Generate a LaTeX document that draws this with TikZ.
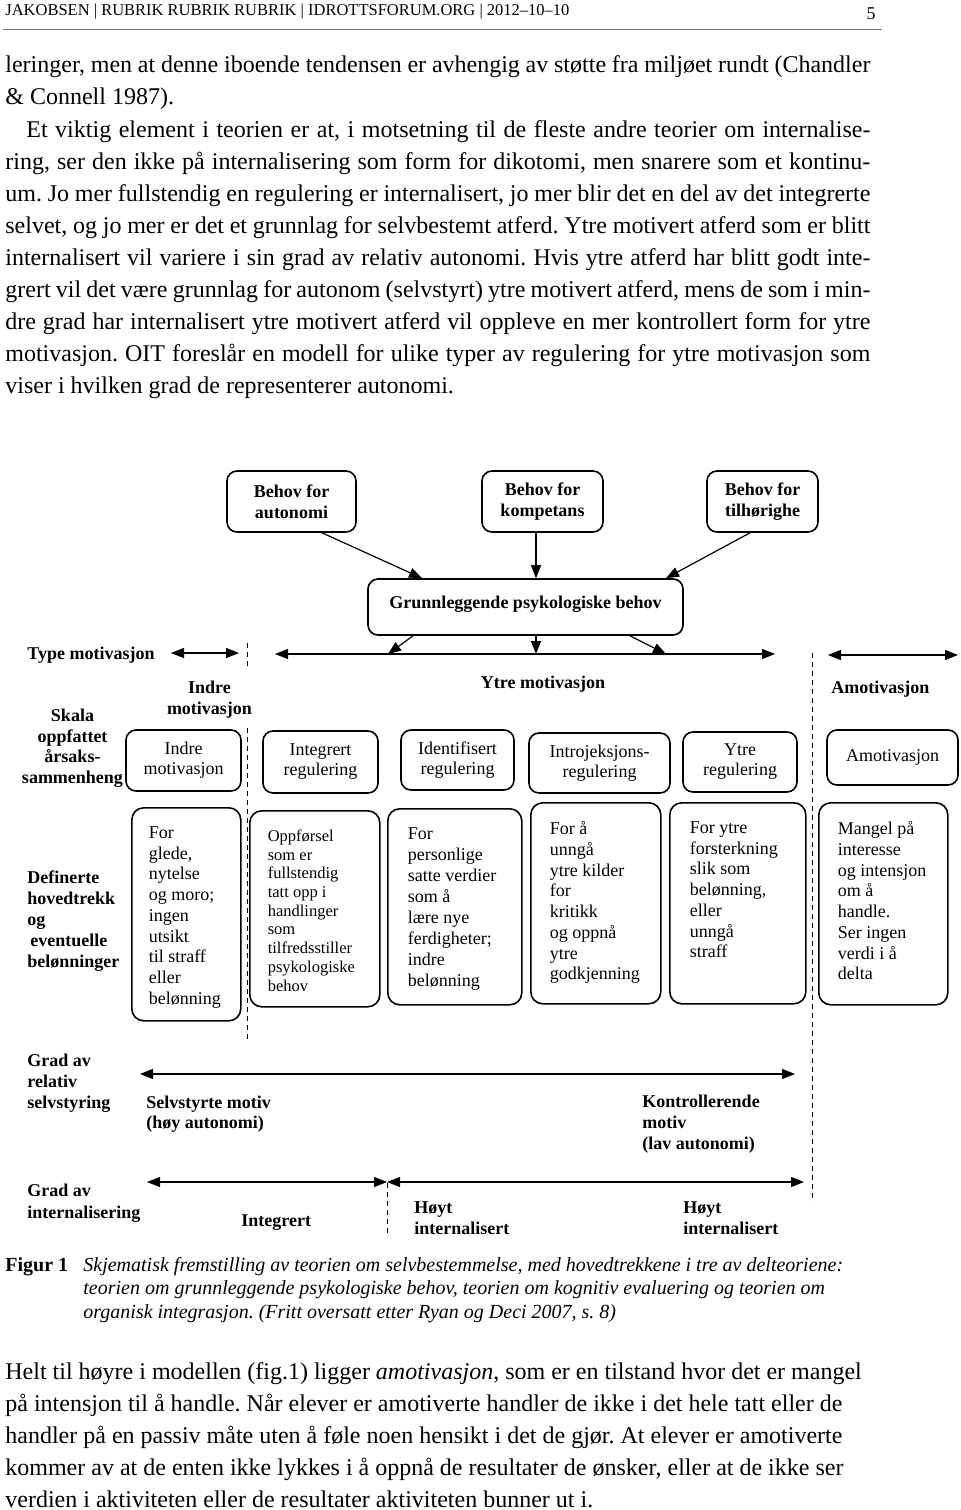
\documentclass[tikz,border=0pt]{standalone}
\usepackage{fontspec}
\setmainfont{Liberation Serif}
\usetikzlibrary{arrows.meta}
\hyphenpenalty=10000
\frenchspacing

\begin{document}
\begin{tikzpicture}
  [x=0.5pt, y=-0.5pt,
   linje/.style={anchor=base west, inner sep=0pt, font=\fontsize{12}{16}\selectfont},
   figtekst/.style={anchor=base west, inner sep=0pt, font=\itshape\fontsize{10}{12}\selectfont},
   behov/.style={draw, line width=0.8pt, rounded corners=5pt, align=center, inner sep=0pt, font=\bfseries\fontsize{9}{10.5}\selectfont},
   regul/.style={draw, line width=0.8pt, rounded corners=5pt, align=center, inner sep=0pt, font=\fontsize{9}{10}\selectfont},
   trekk/.style={draw, line width=0.8pt, rounded corners=6pt, anchor=north west, inner xsep=0pt, inner ysep=9.5pt, font=\fontsize{9}{10.35}\selectfont},
   etikett/.style={inner sep=0pt, font=\bfseries\fontsize{9}{10.5}\selectfont},
   pil/.style={-{Triangle[length=6.5pt,width=5pt]}, line width=0.6pt},
   dobbelpil/.style={{Triangle[length=6.5pt,width=5pt]}-{Triangle[length=6.5pt,width=5pt]}, line width=0.6pt},
   skille/.style={line width=0.5pt, dash pattern=on 2.5pt off 2pt}]
  \useasboundingbox (0,0) rectangle (960,1510);

  % page head
  \node[anchor=base west, inner sep=0pt, font=\fontsize{8.25}{9}\selectfont] (hode) at (5,15) {JAKOBSEN | RUBRIK RUBRIK RUBRIK | IDROTTSFORUM.ORG | 2012–10–10};
  \node[anchor=base east, inner sep=0pt, font=\fontsize{9}{10}\selectfont] (side) at (876,19) {5};
  \draw[line width=0.4pt, black!55] (3,29) -- (882,29);

  % text above the figure
  \node[linje] (t1) at (5,72) {\makebox[432.5pt][s]{leringer, men at denne iboende tendensen er avhengig av støtte fra miljøet rundt (Chandler}};
  \node[linje] (t2) at (5,104) {\& Connell 1987).};
  \node[linje] (t3) at (26,137) {\makebox[422pt][s]{Et viktig element i teorien er at, i motsetning til de fleste andre teorier om internalise-}};
  \node[linje] (t4) at (5,169) {\makebox[432.5pt][s]{ring, ser den ikke på internalisering som form for dikotomi, men snarere som et kontinu-}};
  \node[linje] (t5) at (5,201) {\makebox[432.5pt][s]{um. Jo mer fullstendig en regulering er internalisert, jo mer blir det en del av det integrerte}};
  \node[linje] (t6) at (5,233) {\makebox[432.5pt][s]{selvet, og jo mer er det et grunnlag for selvbestemt atferd. Ytre motivert atferd som er blitt}};
  \node[linje] (t7) at (5,265) {\makebox[432.5pt][s]{internalisert vil variere i sin grad av relativ autonomi. Hvis ytre atferd har blitt godt inte-}};
  \node[linje] (t8) at (5,297) {\makebox[432.5pt][s]{grert vil det være grunnlag for autonom (selvstyrt) ytre motivert atferd, mens de som i min-}};
  \node[linje] (t9) at (5,329) {\makebox[432.5pt][s]{dre grad har internalisert ytre motivert atferd vil oppleve en mer kontrollert form for ytre}};
  \node[linje] (t10) at (5,361) {\makebox[432.5pt][s]{motivasjon. OIT foreslår en modell for ulike typer av regulering for ytre motivasjon som}};
  \node[linje] (t11) at (5,393) {viser i hvilken grad de representerer autonomi.};

  % basic needs
  \node[behov, minimum width=64.5pt, minimum height=30.5pt] (b1) at (291.5,501.5) {Behov for\\autonomi};
  \node[behov, minimum width=60.5pt, minimum height=30.5pt] (b2) at (542.5,501.5) {Behov for\\kompetans};
  \node[behov, minimum width=55.5pt, minimum height=30.5pt] (b3) at (762.5,501.5) {Behov for\\tilhørighe};
  \node[behov, minimum width=157.5pt, text height=14.5pt, text depth=13.5pt] (grunn) at (525.5,607) {Grunnleggende psykologiske behov};

  \draw[pil] ([xshift=15.25pt]b1.south) -- ([xshift=-51.75pt]grunn.north);
  \draw[pil] ([xshift=-3.25pt]b2.south) -- ([xshift=5.25pt]grunn.north);
  \draw[pil] ([xshift=-6.25pt]b3.south) -- ([xshift=70.25pt]grunn.north);

  % type of motivation
  \coordinate (ytreV) at (275,654);
  \coordinate (ytreH) at (775,654);
  \coordinate (m1) at (388,654);
  \coordinate (m2) at (536,654);
  \coordinate (m3) at (666,654);
  \draw[dobbelpil] (ytreV) -- (ytreH);
  \draw[pil] ([xshift=-56.25pt]grunn.south) -- (m1);
  \draw[pil] ([xshift=5.25pt]grunn.south) -- (m2);
  \draw[pil] ([xshift=52.25pt]grunn.south) -- (m3);

  \node[etikett, anchor=base west] (type) at (27,659) {Type motivasjon};
  \coordinate (typeV) at (171,653);
  \coordinate (typeH) at (239,653);
  \draw[dobbelpil] (typeV) -- (typeH);
  \node[etikett, anchor=north, align=center] (indre) at (209.5,680.5) {Indre\\motivasjon};
  \node[etikett, anchor=base] (ytre) at (543,688) {Ytre motivasjon};
  \node[etikett, anchor=base west] (amot) at (831,693) {Amotivasjon};
  \coordinate (amotV) at (828,655);
  \coordinate (amotH) at (958,655);
  \draw[dobbelpil] (amotV) -- (amotH);

  \draw[skille] (247,643) -- (247,668);
  \draw[skille] (247,728) -- (247,1042);
  \draw[skille] (812,653) -- (812,1202);
  \draw[skille] (387,1183) -- (387,1237);

  % regulation
  \node[etikett, anchor=north, align=center, font=\bfseries\fontsize{9}{10.35}\selectfont] (skala) at (72.5,708.5) {Skala\\oppfattet\\årsaks-\\sammenheng};
  \node[regul, minimum width=57.5pt, minimum height=30.5pt] (r1) at (183.5,760.5) {Indre\\motivasjon};
  \node[regul, minimum width=57.5pt, minimum height=31pt] (r2) at (320.5,762) {Integrert\\regulering};
  \node[regul, minimum width=56.5pt, minimum height=30pt] (r3) at (457.5,760) {Identifisert\\regulering};
  \node[regul, minimum width=70.5pt, minimum height=30pt] (r4) at (599.5,763) {Introjeksjons-\\regulering};
  \node[regul, minimum width=57pt, minimum height=30pt] (r5) at (740,762) {Ytre\\regulering};
  \node[regul, minimum width=65.5pt, minimum height=27.5pt] (r6) at (892.5,757.5) {Amotivasjon};

  % main features
  \node[etikett, anchor=north west, align=left] (def) at (27,870.5) {Definerte\\hovedtrekk\\og\\\hspace*{1.5pt}eventuelle\\belønninger};
  \node[trekk, minimum width=54.5pt, minimum height=106.5pt] (d1) at (131,807) {\parbox[t][87.5pt][t]{37.5pt}{\raggedright For\\glede,\\nytelse\\og moro;\\ingen\\utsikt\\til straff\\eller\\belønning}};
  \node[trekk, minimum width=65pt, minimum height=98pt] (d2) at (249,810) {\parbox[t][79pt][t]{47pt}{\fontsize{8.25}{9.35}\selectfont\raggedright Oppførsel\\som er\\fullstendig\\tatt opp i\\handlinger\\som\\tilfredsstiller\\psykologiske\\behov}};
  \node[trekk, minimum width=67pt, minimum height=98pt] (d3) at (387,808) {\parbox[t][79pt][t]{47pt}{\fontsize{9}{10.5}\selectfont\raggedright For\\personlige\\satte verdier\\som å\\lære nye\\ferdigheter;\\indre\\belønning}};
  \node[trekk, minimum width=65pt, minimum height=100.5pt] (d4) at (530,802) {\parbox[t][81.5pt][t]{46pt}{\raggedright For å\\unngå\\ytre kilder\\for\\kritikk\\og oppnå\\ytre\\godkjenning}};
  \node[trekk, minimum width=68pt, minimum height=100.5pt] (d5) at (669,802) {\parbox[t][81.5pt][t]{48pt}{\raggedright For ytre\\forsterkning\\slik som\\belønning,\\eller\\unngå\\straff}};
  \node[trekk, minimum width=64.5pt, minimum height=101pt] (d6) at (818,802) {\parbox[t][82pt][t]{45.5pt}{\raggedright Mangel på\\interesse\\og intensjon\\om å\\handle.\\Ser ingen\\verdi i å\\delta}};

  % autonomy and internalisation
  \node[etikett, anchor=north west, align=left] (grad1) at (27,1053.5) {Grad av\\relativ\\selvstyring};
  \coordinate (selvV) at (140,1074);
  \coordinate (selvH) at (795,1074);
  \draw[dobbelpil] (selvV) -- (selvH);
  \node[etikett, anchor=north west, align=left, font=\bfseries\fontsize{9}{10}\selectfont] (selvst) at (146,1095.5) {Selvstyrte motiv\\(høy autonomi)};
  \node[etikett, anchor=north west, align=left] (kontr) at (642,1094.5) {Kontrollerende\\motiv\\(lav autonomi)};

  \node[etikett, anchor=north west, align=left, font=\bfseries\fontsize{9}{11}\selectfont] (grad2) at (27,1183.5) {Grad av\\internalisering};
  \coordinate (intV) at (147,1182);
  \coordinate (intM) at (387,1182);
  \coordinate (intH) at (804,1182);
  \draw[dobbelpil] (intV) -- (intM);
  \draw[dobbelpil] (intM) -- (intH);
  \node[etikett, anchor=base west] (integr) at (241,1226) {Integrert};
  \node[etikett, anchor=north west, align=left] (hoyt1) at (414,1201.5) {Høyt\\internalisert};
  \node[etikett, anchor=north west, align=left] (hoyt2) at (683,1201.5) {Høyt\\internalisert};

  % caption
  \node[anchor=base west, inner sep=0pt, font=\bfseries\fontsize{10}{12}\selectfont] (figur) at (5,1271) {Figur 1};
  \node[figtekst] (k1) at (83,1271) {Skjematisk fremstilling av teorien om selvbestemmelse, med hovedtrekkene i tre av delteoriene:};
  \node[figtekst] (k2) at (83,1294) {teorien om grunnleggende psykologiske behov, teorien om kognitiv evaluering og teorien om};
  \node[figtekst] (k3) at (83,1318) {organisk integrasjon. (Fritt oversatt etter Ryan og Deci 2007, s. 8)};

  % text below the figure
  \node[linje] (u1) at (5,1379) {Helt til høyre i modellen (fig.1) ligger \textit{amotivasjon}, som er en tilstand hvor det er mangel};
  \node[linje] (u2) at (5,1411) {på intensjon til å handle. Når elever er amotiverte handler de ikke i det hele tatt eller de};
  \node[linje] (u3) at (5,1443) {handler på en passiv måte uten å føle noen hensikt i det de gjør. At elever er amotiverte};
  \node[linje] (u4) at (5,1475) {kommer av at de enten ikke lykkes i å oppnå de resultater de ønsker, eller at de ikke ser};
  \node[linje] (u5) at (5,1507) {verdien i aktiviteten eller de resultater aktiviteten bunner ut i.};
\end{tikzpicture}
\end{document}
